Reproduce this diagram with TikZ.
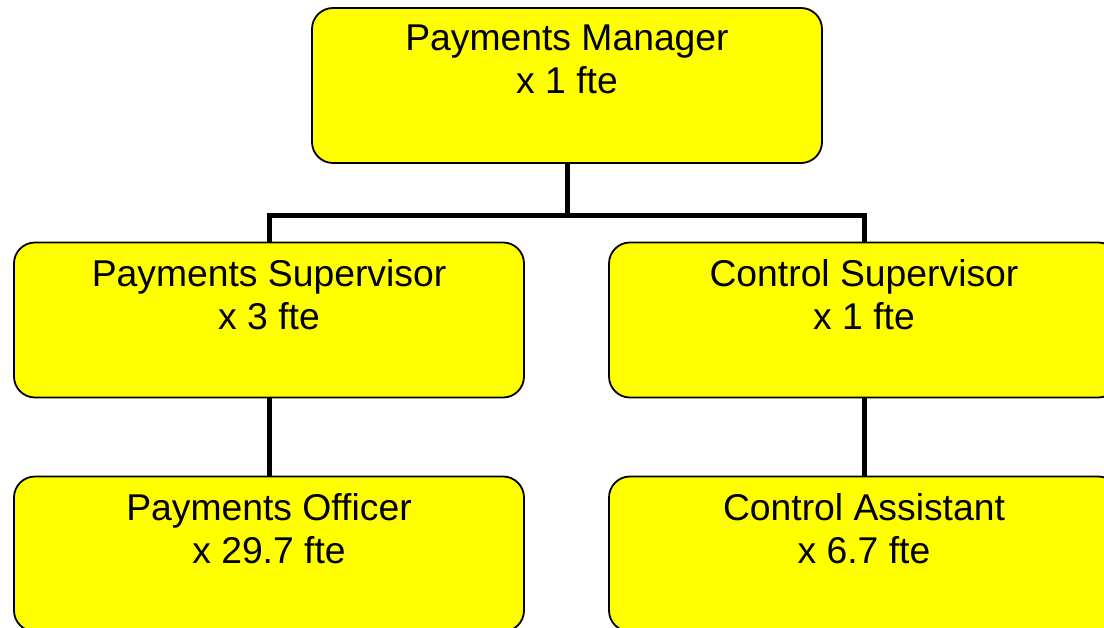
\documentclass[tikz,border=0pt]{standalone}
\usepackage{fontspec}
\setmainfont{Liberation Sans}
\definecolor{boxyellow}{RGB}{255,255,0}
\begin{document}
\begin{tikzpicture}[x=1pt,y=1pt,
  orgbox/.style={draw=black, line width=1.8pt, fill=boxyellow, rounded corners=21pt,
    minimum width=510pt, minimum height=155pt, inner sep=0pt},
  lbl/.style={anchor=north, align=center, inner sep=0pt,
    font=\fontsize{37.3}{43}\selectfont},
  conn/.style={draw=black, line width=5pt}]
\useasboundingbox (0,0) rectangle (1104,-628);
\clip (0,0) rectangle (1104,-628);
\node[orgbox] (pm) at (567,-85.5) {};
\node[orgbox] (ps) at (269,-320) {};
\node[orgbox] (cs) at (864,-320) {};
\node[orgbox] (po) at (269,-554) {};
\node[orgbox] (ca) at (864,-554) {};
\node[lbl] (tpm) at ([yshift=-18pt]pm.north) {Payments Manager\\x 1 fte};
\node[lbl] (tps) at ([yshift=-18pt]ps.north) {Payments Supervisor\\x 3 fte};
\node[lbl] (tcs) at ([yshift=-18pt]cs.north) {Control Supervisor\\x 1 fte};
\node[lbl] (tpo) at ([yshift=-18pt]po.north) {Payments Officer\\x 29.7 fte};
\node[lbl] (tca) at ([yshift=-18pt]ca.north) {Control Assistant\\x 6.7 fte};
\coordinate (j) at ([yshift=-52pt]pm.south);
\draw[conn] (pm.south) -- (j);
\draw[conn] (ps.north) |- (j) -| (cs.north);
\draw[conn] (ps.south) -- (po.north);
\draw[conn] (cs.south) -- (ca.north);
\end{tikzpicture}
\end{document}
